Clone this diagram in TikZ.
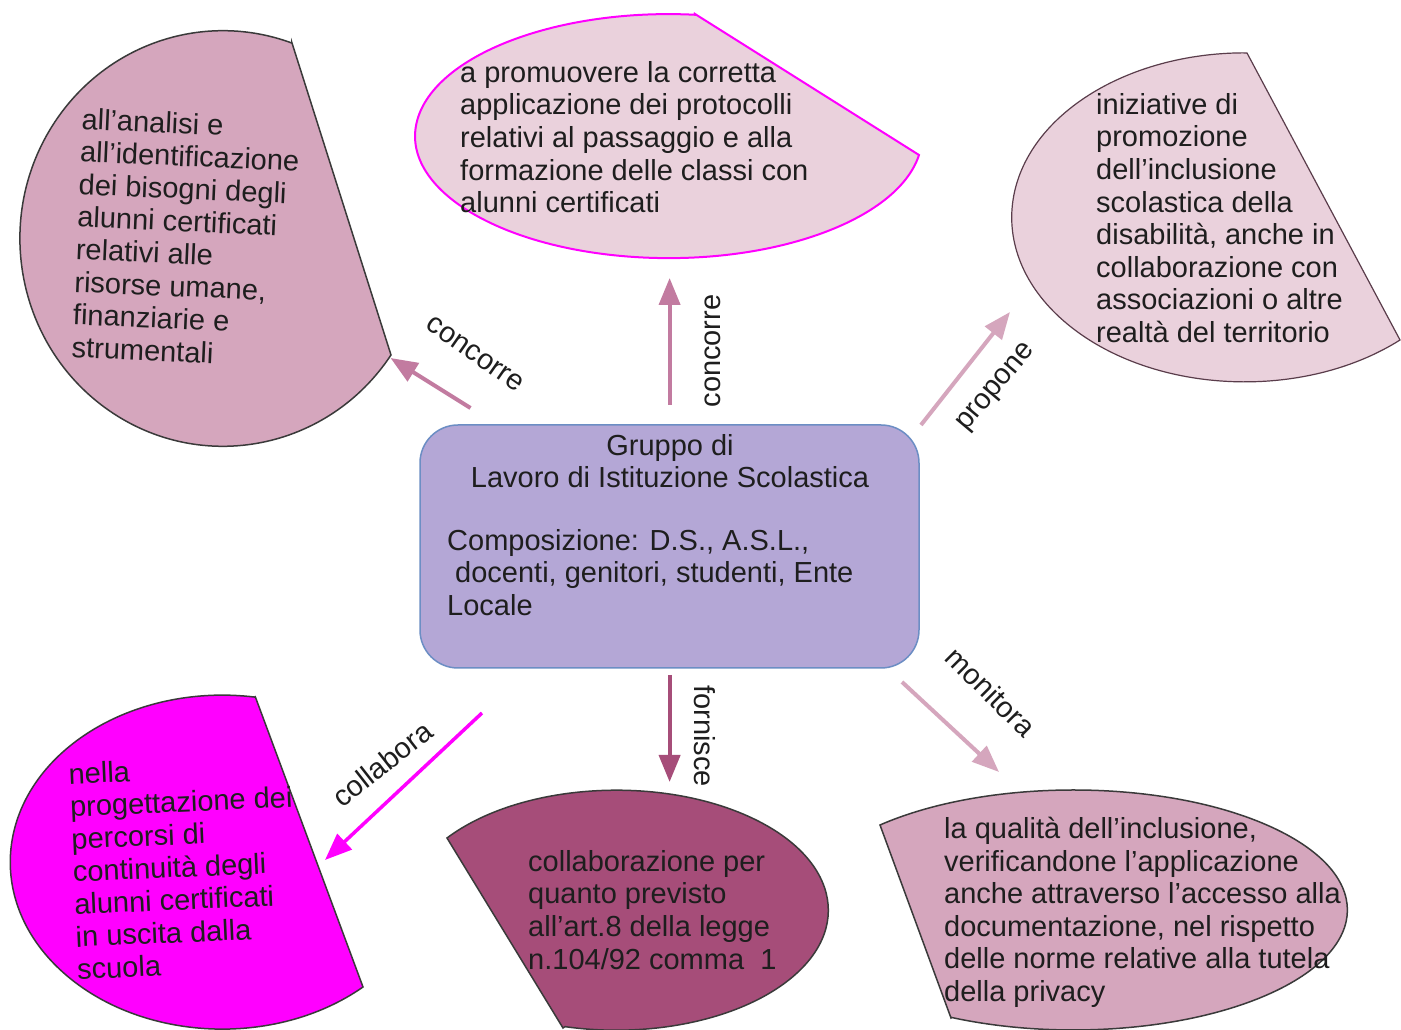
\documentclass[tikz,border=0pt]{standalone}
\usepackage{fontspec}
\setmainfont{Liberation Sans}
\usetikzlibrary{arrows.meta}
\definecolor{pinkA}{HTML}{D5A6BD}
\definecolor{pinkL}{HTML}{EAD1DC}
\definecolor{pinkM}{HTML}{C27BA0}
\definecolor{plum}{HTML}{A64D79}
\definecolor{magen}{HTML}{FF00FF}
\definecolor{lav}{HTML}{B4A7D6}
\definecolor{boxline}{HTML}{6C8EC4}
\definecolor{edgec}{HTML}{3A3A3A}
\definecolor{edgetr}{HTML}{5A3D4B}
\definecolor{ink}{HTML}{1E1E1E}
\begin{document}
\begin{tikzpicture}[x=1pt,y=1pt,
  txt/.style={font=\fontsize{29}{32.6}\selectfont, inner sep=0pt, align=left, text=ink},
  lbl/.style={font=\fontsize{29}{32.6}\selectfont, inner sep=0pt, text=ink},
  blob/.style={line width=1.5pt, draw=edgec},
  conn/.style={line width=4pt, -{Triangle[length=27pt,width=21pt]}}]
\useasboundingbox (0,0) rectangle (1401,1030);
\fill[white] (0,0) rectangle (1401,1030);

% shapes
\path[blob, fill=pinkA] (292,987) -- (391,675) arc[start angle=-34.1, end angle=-289.9, x radius=203, y radius=207.8] -- cycle;
\path[draw=magen, line width=2pt, fill=pinkL] (695,1016) -- (919,875) arc[start angle=-8.9, end angle=-276, x radius=253.5, y radius=122] -- cycle;
\path[draw=edgetr, line width=1.2pt, fill=pinkL] (1247,977) -- (1400,690) arc[start angle=-48.2, end angle=-269.5, x radius=233, y radius=164.5] -- cycle;
\path[blob, fill=magen] (255,334) -- (363,43) arc[start angle=-48.4, end angle=-279, x radius=212, y radius=167] -- cycle;
\path[blob, fill=plum] (563,2) -- (447,192) arc[start angle=143, end angle=-104, x radius=212, y radius=120] -- cycle;
\path[blob, fill=pinkA] (951,12) -- (880,205) arc[start angle=134.9, end angle=-116.4, x radius=274, y radius=120] -- cycle;

% central box
\node[draw=boxline, fill=lav, rounded corners=38pt, minimum width=499pt, minimum height=243pt, line width=1.5pt] (grp) at (669.5,483.5) {};
\node[lbl, align=center, anchor=north] (title) at (670,596) {Gruppo di\\Lavoro di Istituzione Scolastica};
\node[txt, anchor=north west] (comp) at (447,501) {Composizione: D.S., A.S.L.,\\\hspace*{8pt}docenti, genitori, studenti, Ente\\Locale};

% texts
\node[txt, anchor=north west, rotate=-2.5] (tl) at (82,922) {all’analisi e\\all’identificazione\\dei bisogni degli\\alunni certificati\\relativi alle\\risorse umane,\\finanziarie e\\strumentali};
\node[txt, anchor=north west] (tp) at (460,969) {a promuovere la corretta\\applicazione dei protocolli\\relativi al passaggio e alla\\formazione delle classi con\\alunni certificati};
\node[txt, anchor=north west] (tr) at (1096,937) {iniziative di\\promozione\\dell’inclusione\\scolastica della\\disabilità, anche in\\collaborazione con\\associazioni o altre\\realtà del territorio};
\node[txt, anchor=north west, rotate=2.5] (bl) at (68,267) {nella\\progettazione dei\\percorsi di\\continuità degli\\alunni certificati\\in uscita dalla\\scuola};
\node[txt, anchor=north west] (bc) at (528,180) {collaborazione per\\quanto previsto\\all’art.8 della legge\\n.104/92 comma\ \ 1};
\node[txt, anchor=north west] (br) at (944,213) {la qualità dell’inclusione,\\verificandone l’applicazione\\anche attraverso l’accesso alla\\documentazione, nel rispetto\\delle norme relative alla tutela\\della privacy};

% connectors
\coordinate (a1s) at (470.5,622); \coordinate (a1e) at (390.5,672);
\coordinate (a2s) at (669.6,625); \coordinate (a2e) at (669.6,752);
\coordinate (a3s) at (921,605);   \coordinate (a3e) at (1010,718);
\coordinate (a4s) at (669.6,355); \coordinate (a4e) at (669.6,248);
\coordinate (a5s) at (902,348);   \coordinate (a5e) at (999,258);
\coordinate (a6s) at (482,317);   \coordinate (a6e) at (325,170);
\draw[conn, pinkM] (a1s) -- (a1e);
\draw[conn, pinkM] (a2s) -- (a2e);
\draw[conn, pinkA] (a3s) -- (a3e);
\draw[conn, plum] (a4s) -- (a4e);
\draw[conn, pinkA] (a5s) -- (a5e);
\draw[conn, magen, line width=3.5pt] (a6s) -- (a6e);

% labels
\node[lbl, rotate=-35] (l1) at (475,676) {concorre};
\node[lbl, rotate=90] (l2) at (713,679) {concorre};
\node[lbl, rotate=50] (l3) at (997,642) {propone};
\node[lbl, rotate=-90] (l4) at (705,294) {fornisce};
\node[lbl, rotate=-45] (l5) at (991,338) {monitora};
\node[lbl, rotate=38] (l6) at (382,266) {collabora};
\end{tikzpicture}
\end{document}
